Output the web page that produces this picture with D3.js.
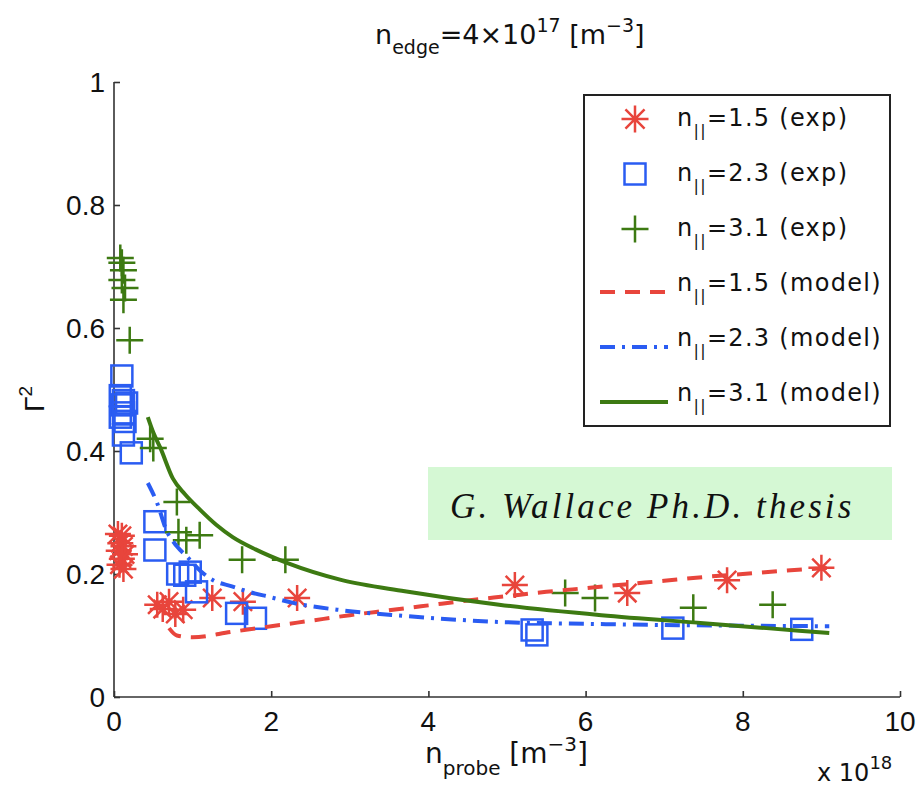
<!DOCTYPE html>
<html>
<head>
<meta charset="utf-8">
<script src="https://cdn.jsdelivr.net/npm/d3@7"></script>
<style>
  html, body { margin: 0; padding: 0; background: #fff; }
  svg { display: block; font-family: "Liberation Sans", Arial, Helvetica, sans-serif; }
  .wide { font-family: "DejaVu Sans", "Liberation Sans", sans-serif; }
</style>
</head>
<body>
<svg id="chart" width="920" height="791"></svg>
<script>
// Measured reflection coefficient vs. probe density, with model curves
const xTicks = [0, 2, 4, 6, 8, 10];
const yTicks = [0, 0.2, 0.4, 0.6, 0.8, 1];
const yTickLabels = ["0", "0.2", "0.4", "0.6", "0.8", "1"];

// n|| = 1.5 (exp)
const exp15 = [
  [0.05, 0.265], [0.10, 0.262], [0.08, 0.25], [0.12, 0.245], [0.06, 0.238],
  [0.14, 0.232], [0.10, 0.225], [0.07, 0.215], [0.12, 0.208],
  [0.55, 0.15], [0.62, 0.143], [0.70, 0.155], [0.78, 0.135], [0.88, 0.142],
  [1.25, 0.161], [1.64, 0.155], [2.33, 0.161],
  [5.10, 0.182], [6.53, 0.169], [7.80, 0.19], [9.00, 0.21]
];
// n|| = 2.3 (exp)
const exp23 = [
  [0.10, 0.522], [0.08, 0.49], [0.12, 0.482], [0.10, 0.475], [0.16, 0.478],
  [0.12, 0.462], [0.08, 0.455], [0.14, 0.448], [0.12, 0.426], [0.22, 0.397],
  [0.52, 0.285], [0.52, 0.239], [0.81, 0.2], [0.90, 0.198], [0.97, 0.203],
  [1.05, 0.171], [1.56, 0.136], [1.80, 0.128],
  [5.32, 0.109], [5.38, 0.101], [7.11, 0.112], [8.75, 0.11]
];
// n|| = 3.1 (exp)
const exp31 = [
  [0.08, 0.714], [0.10, 0.706], [0.12, 0.694], [0.10, 0.678], [0.14, 0.665],
  [0.12, 0.646], [0.20, 0.58], [0.46, 0.42], [0.50, 0.405],
  [0.80, 0.317], [0.82, 0.268], [0.92, 0.255], [1.09, 0.263],
  [1.63, 0.223], [2.18, 0.223],
  [5.74, 0.169], [6.12, 0.161], [7.37, 0.145], [8.38, 0.15]
];
// model curves
const model15 = [
  [0.70, 0.112], [0.80, 0.100], [1.0, 0.097], [1.5, 0.106], [2.0, 0.115],
  [2.5, 0.124], [3.0, 0.133], [3.5, 0.141], [4.0, 0.149], [4.5, 0.157],
  [5.0, 0.164], [5.5, 0.171], [6.0, 0.177], [6.5, 0.183], [7.0, 0.189],
  [7.5, 0.195], [8.0, 0.200], [8.5, 0.205], [9.1, 0.210]
];
const model23 = [
  [0.43, 0.348], [0.55, 0.315], [0.67, 0.27], [0.80, 0.245], [0.93, 0.228],
  [1.10, 0.205], [1.26, 0.19], [1.50, 0.18], [1.69, 0.172], [2.0, 0.162],
  [2.28, 0.153], [2.90, 0.141], [3.68, 0.132], [4.90, 0.122], [6.0, 0.119],
  [7.0, 0.117], [8.0, 0.116], [9.1, 0.115]
];
const model31 = [
  [0.43, 0.455], [0.50, 0.43], [0.59, 0.405], [0.75, 0.355], [0.90, 0.33],
  [1.09, 0.305], [1.30, 0.28], [1.51, 0.26], [1.80, 0.24], [2.20, 0.218],
  [2.90, 0.19], [3.70, 0.172], [4.90, 0.15], [6.20, 0.133], [7.50, 0.12],
  [8.30, 0.112], [9.10, 0.104]
];
const legendLabels = ["=1.5 (exp)", "=2.3 (exp)", "=3.1 (exp)", "=1.5 (model)", "=2.3 (model)", "=3.1 (model)"];

const RED = "#e8453c", BLUE = "#2a5cf2", GREEN = "#3d7a12";

const svg = d3.select("#chart");
const x = d3.scaleLinear().domain([0, 10]).range([114, 900]);
const y = d3.scaleLinear().domain([0, 1]).range([697, 82]);

// axes (left and bottom only, ticks pointing inward)
const axisColor = "#333";
const xAxis = svg.append("g").attr("transform", `translate(0,${y(0)})`)
  .call(d3.axisTop(x).tickValues(xTicks).tickSize(6).tickFormat(""));
xAxis.select(".domain").attr("d", `M${x(0)},0H${x(10)}`);
const yAxis = svg.append("g").attr("transform", `translate(${x(0)},0)`)
  .call(d3.axisRight(y).tickValues(yTicks).tickSize(6).tickFormat(""));
yAxis.select(".domain").attr("d", `M0,${y(0)}V${y(1)}`);
svg.selectAll(".domain").attr("stroke", axisColor).attr("stroke-width", 1.6);
svg.selectAll(".tick line").attr("stroke", axisColor).attr("stroke-width", 1.6);

svg.append("g").selectAll("text").data(xTicks).join("text")
  .attr("x", d => x(d)).attr("y", 731)
  .attr("text-anchor", "middle").attr("font-size", 28).attr("fill", "#111")
  .text(d => d);
svg.append("g").selectAll("text").data(yTicks).join("text")
  .attr("x", 105).attr("y", d => y(d) + 10)
  .attr("text-anchor", "end").attr("font-size", 28).attr("fill", "#111")
  .text((d, i) => yTickLabels[i]);

// marker shapes
function star(g, s) {
  const r = s / 2, k = r * Math.SQRT1_2;
  g.append("path").attr("d",
    `M${-r},0H${r}M0,${-r}V${r}M${-k},${-k}L${k},${k}M${-k},${k}L${k},${-k}`)
    .attr("stroke", RED).attr("stroke-width", 2.5).attr("fill", "none");
}
function square(g, s) {
  g.append("rect").attr("x", -s / 2).attr("y", -s / 2).attr("width", s).attr("height", s)
    .attr("stroke", BLUE).attr("stroke-width", 2.5).attr("fill", "none");
}
function plus(g, s) {
  const r = s / 2;
  g.append("path").attr("d", `M${-r},0H${r}M0,${-r}V${r}`)
    .attr("stroke", GREEN).attr("stroke-width", 2.5).attr("fill", "none");
}

function scatter(data, drawer, size) {
  const g = svg.append("g");
  g.selectAll("g").data(data).join("g")
    .attr("transform", d => `translate(${x(d[0])},${y(d[1])})`)
    .each(function () { drawer(d3.select(this), size); });
}
scatter(exp15, star, 26);
scatter(exp23, square, 21);
scatter(exp31, plus, 27);

const line = d3.line().x(d => x(d[0])).y(d => y(d[1])).curve(d3.curveMonotoneX);
svg.append("path").datum(model15).attr("d", line)
  .attr("fill", "none").attr("stroke", RED).attr("stroke-width", 4).attr("stroke-dasharray", "15,10");
svg.append("path").datum(model23).attr("d", line)
  .attr("fill", "none").attr("stroke", BLUE).attr("stroke-width", 4).attr("stroke-dasharray", "15,7,3,7");
svg.append("path").datum(model31).attr("d", line)
  .attr("fill", "none").attr("stroke", GREEN).attr("stroke-width", 4);

// legend
const lg = svg.append("g");
lg.append("rect").attr("x", 584).attr("y", 95).attr("width", 306).attr("height", 331)
  .attr("fill", "#fff").attr("stroke", "#222").attr("stroke-width", 2);
const rowY = i => 117 + i * 55;
[star, square, plus].forEach((fn, i) => {
  const g = lg.append("g").attr("transform", `translate(635,${rowY(i) + 2})`);
  fn(g, i === 1 ? 21 : 27);
});
const legStyles = [[RED, "15,10"], [BLUE, "15,7,3,7"], [GREEN, null]];
legStyles.forEach((st, i) => {
  const p = lg.append("path").attr("d", `M600,${rowY(i + 3) + 10}H668`)
    .attr("stroke", st[0]).attr("stroke-width", 4).attr("fill", "none");
  if (st[1]) p.attr("stroke-dasharray", st[1]);
});
legendLabels.forEach((lab, i) => {
  const t = lg.append("text").attr("class", "wide").attr("x", 677).attr("y", rowY(i) + 9)
    .attr("font-size", 24).attr("letter-spacing", 1.3).attr("fill", "#111");
  t.append("tspan").text("n");
  t.append("tspan").attr("font-size", 16).attr("dy", 10).text("||");
  t.append("tspan").attr("dy", -10).text(lab);
});

// title
const title = svg.append("text").attr("class", "wide").attr("x", 375).attr("y", 44)
  .attr("font-size", 27).attr("fill", "#111");
title.append("tspan").text("n");
title.append("tspan").attr("font-size", 19).attr("dy", 10).text("edge");
title.append("tspan").attr("dy", -10).text("=4×10");
title.append("tspan").attr("font-size", 19).attr("dy", -12).text("17");
title.append("tspan").attr("dy", 12).text(" [m");
title.append("tspan").attr("font-size", 19).attr("dy", -12).text("−3");
title.append("tspan").attr("dy", 12).text("]");

// x label
const xl = svg.append("text").attr("class", "wide").attr("x", 425).attr("y", 763)
  .attr("font-size", 28).attr("fill", "#111");
xl.append("tspan").text("n");
xl.append("tspan").attr("font-size", 20).attr("dy", 12).text("probe");
xl.append("tspan").attr("dy", -12).text(" [m");
xl.append("tspan").attr("font-size", 20).attr("dy", -12).text("−3");
xl.append("tspan").attr("dy", 12).text("]");

// exponent
const ex = svg.append("text").attr("class", "wide").attr("x", 817).attr("y", 781)
  .attr("font-size", 24).attr("fill", "#111");
ex.append("tspan").text("x 10");
ex.append("tspan").attr("font-size", 18).attr("dy", -12).text("18");

// y label
const yl = svg.append("text").attr("transform", "translate(44,412) rotate(-90)")
  .attr("font-size", 28).attr("fill", "#111");
yl.append("tspan").text("Γ");
yl.append("tspan").attr("font-size", 19).attr("dy", -12).text("2");

// annotation
svg.append("rect").attr("x", 428).attr("y", 467).attr("width", 464).attr("height", 73)
  .attr("fill", "#d5f8d4");
svg.append("text").attr("x", 450).attr("y", 518)
  .attr("font-family", "'Liberation Serif', 'Times New Roman', serif")
  .attr("font-style", "italic").attr("font-size", 35).attr("letter-spacing", 3.1).attr("fill", "#111")
  .text("G. Wallace Ph.D. thesis");
</script>
</body>
</html>
